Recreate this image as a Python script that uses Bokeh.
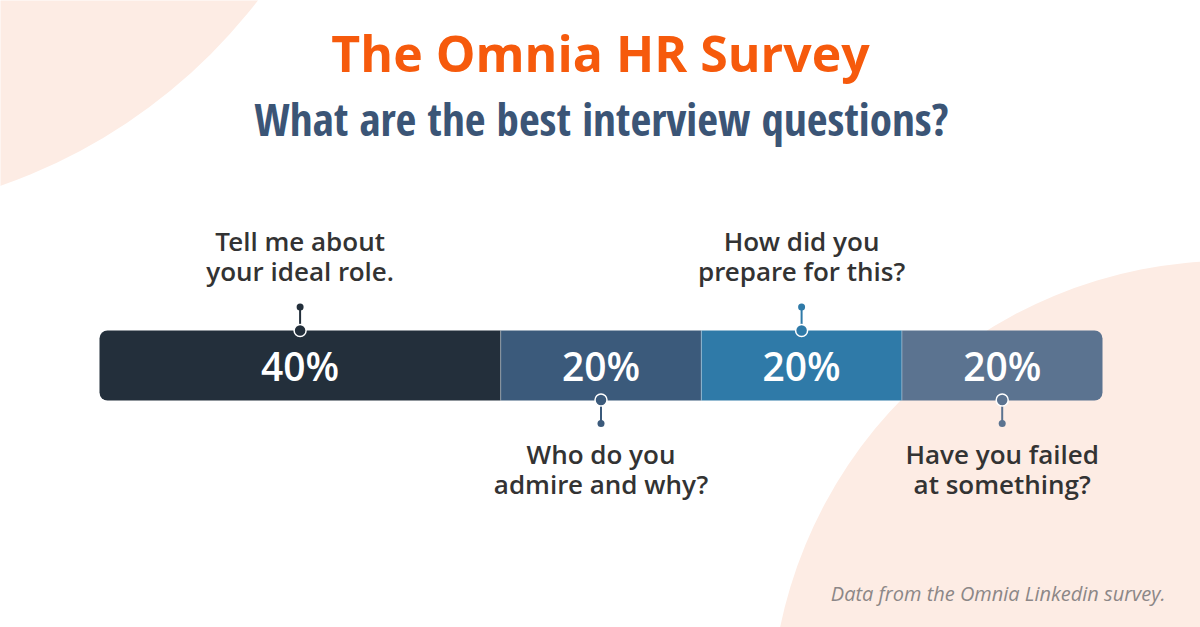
from bokeh.plotting import figure
from bokeh.models import Range1d
from bokeh.core.properties import value
from bokeh.embed import file_html
from bokeh.resources import INLINE

# ---------------- data ----------------
title_text = "The Omnia HR Survey"
subtitle_text = "What are the best interview questions?"
footnote_text = "Data from the Omnia Linkedin survey."
questions = ["Tell me about\nyour ideal role.",
             "Who do you\nadmire and why?",
             "How did you\nprepare for this?",
             "Have you failed\nat something?"]
shares = [40, 20, 20, 20]
seg_colors = ["#232f3b", "#3b5a7b", "#2f7aa8", "#5b7390"]
label_side = ["above", "below", "above", "below"]

# ---------------- layout constants ----------------
W, H = 1200, 627
BAR_LEFT_PX, PX_PER_PCT = 99, 10.03
x0 = -BAR_LEFT_PX / PX_PER_PCT
x1 = x0 + W / PX_PER_PCT


def fx(px):
    return (px - BAR_LEFT_PX) / PX_PER_PCT


BAR_TOP, BAR_BOT = 330, 400
BAR_MID = (BAR_TOP + BAR_BOT) / 2
SEMI = value("Open Sans SemiBold, Open Sans")

p = figure(width=W, height=H, x_range=Range1d(x0, x1), y_range=Range1d(H, 0),
           output_backend="svg", toolbar_location=None, min_border=0,
           background_fill_color="white", border_fill_color="white")
p.axis.visible = False
p.grid.visible = False
p.outline_line_color = None

PEACH = "#fdece4"
# background decorative circles
p.circle(x=[fx(-182)], y=[-339], radius=555, radius_units="screen",
         fill_color=PEACH, line_color=None)
p.circle(x=[fx(1230)], y=[720], radius=460, radius_units="screen",
         fill_color=PEACH, line_color=None)

# ---------------- bar segments ----------------
lefts, rights = [], []
acc = 0
for s in shares:
    lefts.append(acc)
    acc += s
    rights.append(acc)
centers = [(l + r) / 2 for l, r in zip(lefts, rights)]

n = len(shares)
for i in range(n):
    if i == 0:
        br = (8, 0, 0, 8)
    elif i == n - 1:
        br = (0, 8, 8, 0)
    else:
        br = 0
    p.hbar(y=[BAR_MID], height=BAR_BOT - BAR_TOP, left=[lefts[i]], right=[rights[i]],
           fill_color=seg_colors[i], line_color=None, border_radius=br)

# thin dividers
p.segment(x0=rights[:-1], y0=[BAR_TOP] * (n - 1), x1=rights[:-1], y1=[BAR_BOT] * (n - 1),
          line_color="white", line_alpha=0.35, line_width=1)

# percentage labels
p.text(x=centers, y=[BAR_MID] * n, text=[f"{s}%" for s in shares],
       text_font=SEMI, text_font_size="39px",
       text_color="white", text_align="center", text_baseline="middle")

# ---------------- connectors and labels ----------------
for i in range(n):
    cx = centers[i]
    col = seg_colors[i]
    lines = questions[i].split("\n")
    if label_side[i] == "above":
        yb, yd = BAR_TOP, 306.5
        ys = [240.5, 270.5]
    else:
        yb, yd = BAR_BOT - 0.5, 423
        ys = [453.5, 483]
    p.segment(x0=[cx], y0=[yb], x1=[cx], y1=[yd], line_color=col, line_width=2)
    p.scatter(x=[cx], y=[yd], size=7, marker="circle", fill_color=col, line_color=None)
    p.scatter(x=[cx], y=[yb], size=12, marker="circle", fill_color=col,
              line_color="white", line_width=1.5)
    p.text(x=[cx] * len(lines), y=ys, text=lines,
           text_font=SEMI, text_font_size="26px",
           text_color="#333333", text_align="center", text_baseline="middle")

# ---------------- titles ----------------
p.text(x=[fx(600)], y=[52.5], text=[title_text], text_font=value("Open Sans"),
       text_font_style="bold", text_font_size="50px", text_color="#f65a0c",
       text_align="center", text_baseline="middle")
p.text(x=[fx(601)], y=[117.5], text=[subtitle_text],
       text_font=value("Open Sans Condensed"),
       text_font_style="bold", text_font_size="45px", text_color="#3b5576",
       text_align="center", text_baseline="middle")
p.text(x=[fx(1165)], y=[593], text=[footnote_text], text_font=value("Open Sans"),
       text_font_style="italic", text_font_size="20px", text_color="#8c8787",
       text_align="right", text_baseline="middle")

open("out.html", "w").write(file_html(p, INLINE))
